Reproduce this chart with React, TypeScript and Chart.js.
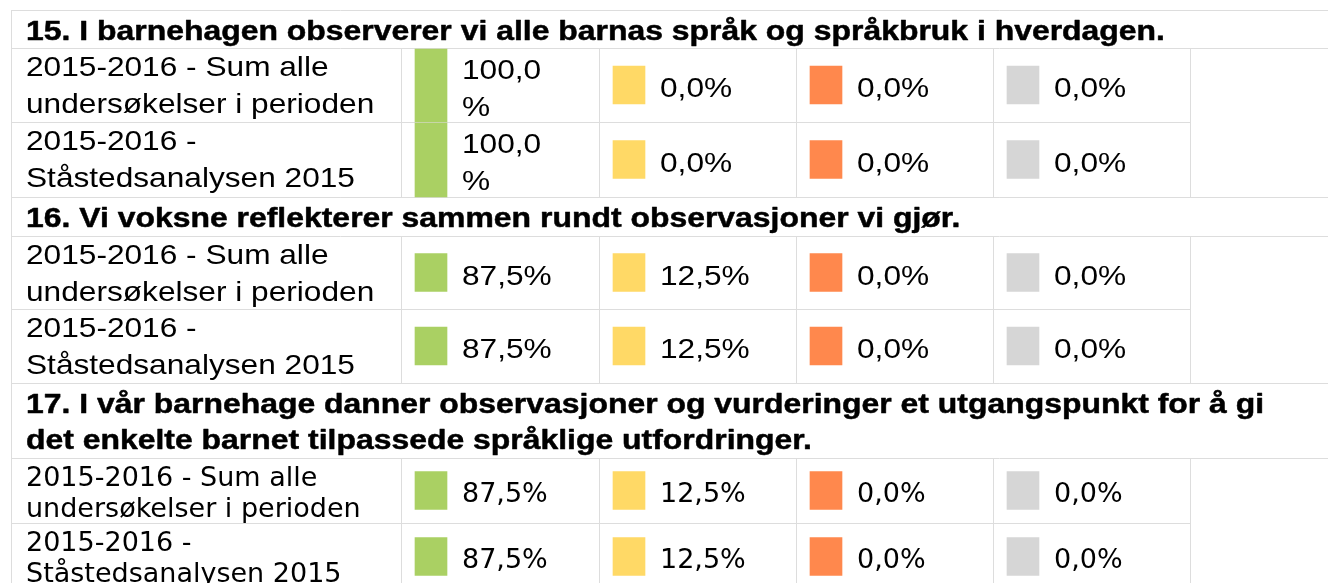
import { useEffect, useRef } from "react";
import { Chart, registerables } from "chart.js";

Chart.register(...registerables);

// ---------- data ----------
const questions: string[][] = [
  ["15. I barnehagen observerer vi alle barnas språk og språkbruk i hverdagen."],
  ["16. Vi voksne reflekterer sammen rundt observasjoner vi gjør."],
  [
    "17. I vår barnehage danner observasjoner og vurderinger et utgangspunkt for å gi",
    "det enkelte barnet tilpassede språklige utfordringer.",
  ],
];
const rowLabels: string[][] = [
  ["2015-2016 - Sum alle", "undersøkelser i perioden"],
  ["2015-2016 -", "Ståstedsanalysen 2015"],
];
const seriesNames = ["Grønn", "Gul", "Oransje", "Grå"];
// one value per (question, row): q15 r1, q15 r2, q16 r1, q16 r2, q17 r1, q17 r2
const greenValues = [100.0, 100.0, 87.5, 87.5, 87.5, 87.5];
const yellowValues = [0.0, 0.0, 12.5, 12.5, 12.5, 12.5];
const orangeValues = [0.0, 0.0, 0.0, 0.0, 0.0, 0.0];
const grayValues = [0.0, 0.0, 0.0, 0.0, 0.0, 0.0];

// ---------- layout / style ----------
const W = 1328;
const H = 583;
const TABLE_LEFT = 11;
const TABLE_TOP = 10;
const LABEL_COL_RIGHT = 401;
const VALUE_COL_LEFTS = [401, 599, 796, 993];
const VALUE_COL_END = 1190;
const SWATCH_OFFSET = 14;
const SWATCH_W = 32;
const SWATCH_H = 38;
const VALUE_TEXT_OFFSET = 61;
const VALUE_TEXT_MAX = 100;
const TEXT_X = 26;
const GRID_COLOR = "#dddddd";
const COLORS = ["#aad063", "#ffd966", "#ff884d", "#d6d6d6"];
const HEADER_FONT = 'bold 28px "Liberation Sans"';
const HEADER_SX = 1.14;
const HEADER_STROKE = 0.5;
const HEADER_LINE_H = 36;
const HEADER_BASE = 30;

type SectionStyle = {
  headerH: number;
  rowH: number[];
  font: string;
  sx: number;
  lineH: number;
  labelBase: number;
  valueBase: number;
};
const sectionStyles: SectionStyle[] = [
  { headerH: 38, rowH: [74, 75], font: '28px "Liberation Sans"', sx: 1.13, lineH: 37, labelBase: 28, valueBase: 12 },
  { headerH: 39, rowH: [73, 74], font: '28px "Liberation Sans"', sx: 1.13, lineH: 37, labelBase: 28, valueBase: 12 },
  { headerH: 75, rowH: [65, 67], font: '27px "DejaVu Sans"', sx: 1.0, lineH: 31, labelBase: 28, valueBase: 11 },
];

const fmt = (v: number) => v.toFixed(1).replace(".", ",") + "%";

type RowGeom = { top: number; bottom: number; section: number; row: number; idx: number };
type SectionGeom = { top: number; headerBottom: number; bottom: number; rows: RowGeom[] };

function computeGeometry(): SectionGeom[] {
  const out: SectionGeom[] = [];
  let y = TABLE_TOP;
  let idx = 0;
  sectionStyles.forEach((s, si) => {
    const top = y;
    const headerBottom = top + s.headerH;
    let ry = headerBottom;
    const rows: RowGeom[] = [];
    s.rowH.forEach((h, ri) => {
      rows.push({ top: ry, bottom: ry + h, section: si, row: ri, idx: idx++ });
      ry += h;
    });
    out.push({ top, headerBottom, bottom: ry, rows });
    y = ry;
  });
  return out;
}

const measureCtx = document.createElement("canvas").getContext("2d") as CanvasRenderingContext2D;
function textWidth(text: string, font: string, sx: number) {
  measureCtx.font = font;
  return measureCtx.measureText(text).width * sx;
}
function valueLines(v: number, s: SectionStyle): string[] {
  const t = fmt(v);
  if (textWidth(t, s.font, s.sx) > VALUE_TEXT_MAX) return [t.slice(0, -1), "%"];
  return [t];
}

function drawText(
  ctx: CanvasRenderingContext2D,
  text: string,
  x: number,
  y: number,
  sx: number,
  stroke = 0
) {
  ctx.save();
  ctx.translate(x, y);
  ctx.scale(sx, 1);
  ctx.fillText(text, 0, 0);
  if (stroke > 0) {
    ctx.lineWidth = stroke;
    ctx.strokeStyle = ctx.fillStyle as string;
    ctx.lineJoin = "round";
    ctx.strokeText(text, 0, 0);
  }
  ctx.restore();
}

export default function App() {
  const ref = useRef<HTMLCanvasElement | null>(null);

  useEffect(() => {
    const canvas = ref.current;
    if (!canvas) return;
    const geom = computeGeometry();
    const allRows = geom.flatMap((g) => g.rows);
    const seriesValues = [greenValues, yellowValues, orangeValues, grayValues];

    const datasets = seriesValues.map((vals, ci) => ({
      label: seriesNames[ci],
      backgroundColor: COLORS[ci],
      borderWidth: 0,
      barThickness: SWATCH_W,
      grouped: false,
      data: allRows.map((r) => {
        const s = sectionStyles[r.section];
        const lines = valueLines(vals[r.idx], s);
        const cx = VALUE_COL_LEFTS[ci] + SWATCH_OFFSET + SWATCH_W / 2;
        if (lines.length > 1) return { x: cx, y: [r.top + 1, r.bottom] };
        const mid = (r.top + r.bottom) / 2;
        return { x: cx, y: [mid - SWATCH_H / 2, mid + SWATCH_H / 2] };
      }),
    }));

    const tablePlugin = {
      id: "tablePlugin",
      beforeDatasetsDraw(chart: any) {
        const ctx: CanvasRenderingContext2D = chart.ctx;
        const xs = chart.scales.x;
        const ys = chart.scales.y;
        const px = (v: number) => Math.round(xs.getPixelForValue(v)) + 0.5;
        const py = (v: number) => Math.round(ys.getPixelForValue(v)) + 0.5;
        ctx.save();
        ctx.strokeStyle = GRID_COLOR;
        ctx.lineWidth = 1;
        const hline = (y: number, x0: number, x1: number) => {
          ctx.beginPath();
          ctx.moveTo(px(x0) - 0.5, py(y));
          ctx.lineTo(px(x1) + 0.5, py(y));
          ctx.stroke();
        };
        const vline = (x: number, y0: number, y1: number) => {
          ctx.beginPath();
          ctx.moveTo(px(x), py(y0) - 0.5);
          ctx.lineTo(px(x), py(y1) + 0.5);
          ctx.stroke();
        };
        geom.forEach((g) => {
          hline(g.top, TABLE_LEFT, W);
          hline(g.headerBottom, TABLE_LEFT, W);
          g.rows.slice(0, -1).forEach((r) => hline(r.bottom, TABLE_LEFT, VALUE_COL_END));
          hline(g.bottom, TABLE_LEFT, W);
          [LABEL_COL_RIGHT, ...VALUE_COL_LEFTS.slice(1), VALUE_COL_END].forEach((x) =>
            vline(x, g.headerBottom, g.bottom)
          );
        });
        vline(TABLE_LEFT, TABLE_TOP, H + 20);
        ctx.restore();
      },
      afterDatasetsDraw(chart: any) {
        const ctx: CanvasRenderingContext2D = chart.ctx;
        const xs = chart.scales.x;
        const ys = chart.scales.y;
        const px = (v: number) => xs.getPixelForValue(v);
        const py = (v: number) => ys.getPixelForValue(v);
        ctx.save();
        ctx.fillStyle = "#000000";
        ctx.textBaseline = "alphabetic";
        ctx.textAlign = "left";
        geom.forEach((g, si) => {
          const s = sectionStyles[si];
          ctx.font = HEADER_FONT;
          questions[si].forEach((line, li) => {
            drawText(
              ctx,
              line,
              px(TEXT_X),
              py(g.top + HEADER_BASE + li * HEADER_LINE_H),
              HEADER_SX,
              HEADER_STROKE
            );
          });
          g.rows.forEach((r) => {
            ctx.font = s.font;
            rowLabels[r.row].forEach((line, li) => {
              drawText(ctx, line, px(TEXT_X), py(r.top + s.labelBase + li * s.lineH), s.sx);
            });
            const mid = (r.top + r.bottom) / 2;
            seriesValues.forEach((vals, ci) => {
              const lines = valueLines(vals[r.idx], s);
              const first = mid + s.valueBase - ((lines.length - 1) * s.lineH) / 2;
              lines.forEach((t, li) => {
                drawText(ctx, t, px(VALUE_COL_LEFTS[ci] + VALUE_TEXT_OFFSET), py(first + li * s.lineH), s.sx);
              });
            });
          });
        });
        ctx.restore();
      },
    };

    const chart = new Chart(canvas, {
      type: "bar",
      data: { datasets: datasets as any },
      options: {
        animation: false,
        responsive: false,
        devicePixelRatio: 1,
        indexAxis: "x",
        layout: { padding: 0 },
        events: [],
        scales: {
          x: { type: "linear", min: 0, max: W, offset: false, display: false },
          y: { type: "linear", min: 0, max: H, reverse: true, offset: false, display: false },
        },
        plugins: { legend: { display: false }, tooltip: { enabled: false }, title: { display: false } },
      },
      plugins: [tablePlugin],
    });
    return () => chart.destroy();
  }, []);

  return (
    <div style={{ position: "absolute", left: 0, top: 0, width: W, height: H, background: "#ffffff" }}>
      <canvas ref={ref} width={W} height={H} style={{ width: W, height: H, display: "block" }} />
    </div>
  );
}
